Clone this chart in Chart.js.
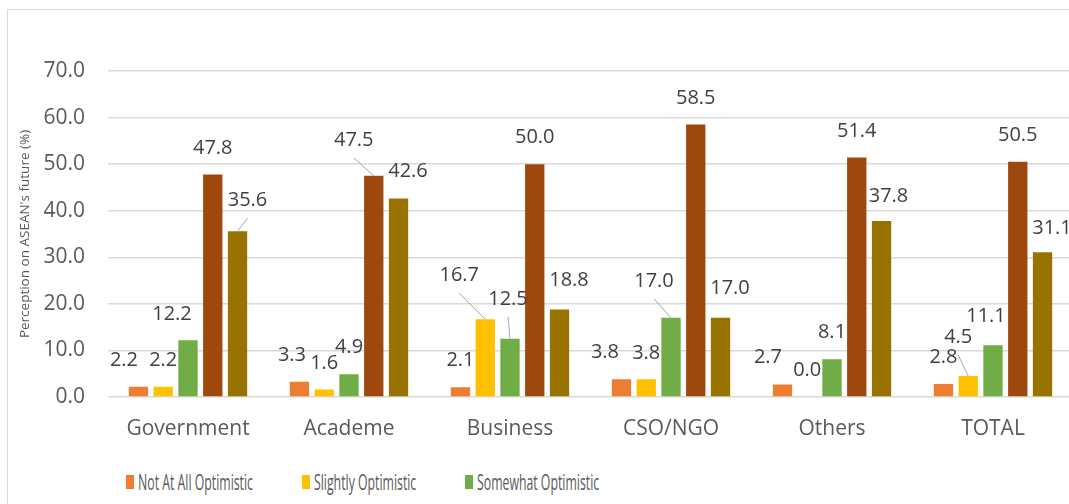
<!DOCTYPE html>
<html>
<head>
<meta charset="utf-8">
<script src="https://cdn.jsdelivr.net/npm/chart.js@4.4.1/dist/chart.umd.min.js"></script>
<style>
  html, body { margin: 0; padding: 0; background: #fff; }
  body { width: 1069px; height: 504px; overflow: hidden; position: relative; }
  #frame { position: absolute; left: 7px; top: 9px; width: 1200px; height: 600px; border: 1.5px solid #d9d9d9; box-sizing: border-box; }
  #wrap { position: absolute; left: 0; top: 0; width: 1080px; height: 460px; }
  #legend { position: absolute; left: 126px; top: 471px; display: flex; flex-wrap: wrap; width: 560px; row-gap: 20px;
            font-family: "Open Sans", sans-serif; font-size: 22px; color: #595959; line-height: 21px; }
  .item { display: flex; align-items: center; margin-right: 49px; white-space: nowrap; }
  .box { width: 8px; height: 14px; margin-right: 4px; flex: none; }
  .txt { display: inline-block; transform-origin: left center; }
</style>
</head>
<body>
<div id="frame"></div>
<div id="wrap"><canvas id="chart"></canvas></div>
<div id="legend"></div>
<script>
const categories = ["Government", "Academe", "Business", "CSO/NGO", "Others", "TOTAL"];
const seriesNames = ["Not At All Optimistic", "Slightly Optimistic", "Somewhat Optimistic", "Optimistic", "Very Optimistic"];
const notAtAll = [2.2, 3.3, 2.1, 3.8, 2.7, 2.8];
const slightly = [2.2, 1.6, 16.7, 3.8, 0.0, 4.5];
const somewhat = [12.2, 4.9, 12.5, 17.0, 8.1, 11.1];
const optimistic = [47.8, 47.5, 50.0, 58.5, 51.4, 50.5];
const veryOptimistic = [35.6, 42.6, 18.8, 17.0, 37.8, 31.1];
const yTicks = [0, 10, 20, 30, 40, 50, 60, 70];

const colors = ["#ED7D31", "#FFC000", "#70AD47", "#9E480E", "#997300"];

// label nudges like the moved excel labels: "dataset,index": [dx, distance above bar top, leader line]
const labelNudge = {
  "0,0": [-14.5, 25], "2,0": [-16, 24], "4,0": [10, 29, true],
  "0,1": [-7.5, 25], "3,1": [-20, 34, true], "4,1": [9.5, 26],
  "1,2": [-26, 42, true], "2,2": [-2, 38, true], "4,2": [9.5, 28],
  "0,3": [-16.5, 26], "2,3": [-17, 35, true], "4,3": [9.5, 28],
  "0,4": [-14.5, 26], "4,4": [7, 23],
  "1,5": [-10, 37, true], "2,5": [-7, 28], "4,5": [9.5, 22]
};

const barLabels = {
  id: "barLabels",
  afterDatasetsDraw(chart) {
    const ctx = chart.ctx;
    ctx.save();
    ctx.font = "20px 'Open Sans'";
    ctx.fillStyle = "#404040";
    ctx.textAlign = "center";
    ctx.textBaseline = "middle";
    chart.data.datasets.forEach((ds, di) => {
      const meta = chart.getDatasetMeta(di);
      meta.data.forEach((bar, i) => {
        const n = labelNudge[di + "," + i] || [0, 25];
        const lx = bar.x + n[0];
        const ly = bar.y - n[1];
        if (n[2]) {
          ctx.strokeStyle = "#a6a6a6";
          ctx.lineWidth = 1;
          ctx.beginPath();
          ctx.moveTo(lx, ly + 16);
          ctx.lineTo(bar.x, bar.y);
          ctx.stroke();
        }
        ctx.fillText(ds.data[i].toFixed(1), lx, ly - 1.5);
      });
    });
    ctx.restore();
  }
};

const allSeries = [notAtAll, slightly, somewhat, optimistic, veryOptimistic];

const chart = new Chart(document.getElementById("chart"), {
  type: "bar",
  data: {
    labels: categories,
    datasets: allSeries.map((vals, k) => ({
      label: seriesNames[k],
      data: vals,
      backgroundColor: colors[k],
      categoryPercentage: 0.769,
      barPercentage: 0.78
    }))
  },
  options: {
    responsive: true,
    maintainAspectRatio: false,
    animation: false,
    layout: { padding: { left: 0, right: 6.5, top: 71, bottom: 0 } },
    plugins: {
      legend: { display: false },
      tooltip: { enabled: false }
    },
    scales: {
      x: {
        grid: { display: false },
        border: { display: false },
        ticks: { color: "#595959", font: { family: "Open Sans", size: 21 }, padding: 11 },
        afterFit: (scale) => { scale.height = 63; }
      },
      y: {
        min: 0,
        max: 70,
        afterBuildTicks: (scale) => { scale.ticks = yTicks.map(v => ({ value: v })); },
        grid: { color: "#d9d9d9", lineWidth: 1.5, drawTicks: false },
        border: { display: false },
        ticks: {
          color: "#595959",
          font: { family: "Open Sans", size: 21 },
          padding: 22.5,
          callback: (v) => Number(v).toFixed(1)
        },
        title: {
          display: true,
          text: "Perception on ASEAN's future (%)",
          color: "#595959",
          font: { family: "Open Sans", size: 13.5 },
          padding: { top: 17, bottom: 0 }
        },
        afterFit: (scale) => { scale.width = 107.5; }
      }
    }
  },
  plugins: [barLabels]
});

// legend below the plot, squeezed like the narrow font in the original
const legendEl = document.getElementById("legend");
chart.data.datasets.forEach((ds) => {
  const item = document.createElement("div");
  item.className = "item";
  const box = document.createElement("span");
  box.className = "box";
  box.style.background = ds.backgroundColor;
  const txt = document.createElement("span");
  txt.className = "txt";
  txt.textContent = ds.label;
  item.appendChild(box);
  item.appendChild(txt);
  legendEl.appendChild(item);
});
const texts = legendEl.querySelectorAll(".txt");
const k = 115 / texts[0].getBoundingClientRect().width;
texts.forEach((t) => {
  const w = t.getBoundingClientRect().width;
  t.style.transform = "scaleX(" + k + ")";
  t.style.marginRight = (-(1 - k) * w) + "px";
});
</script>
</body>
</html>
